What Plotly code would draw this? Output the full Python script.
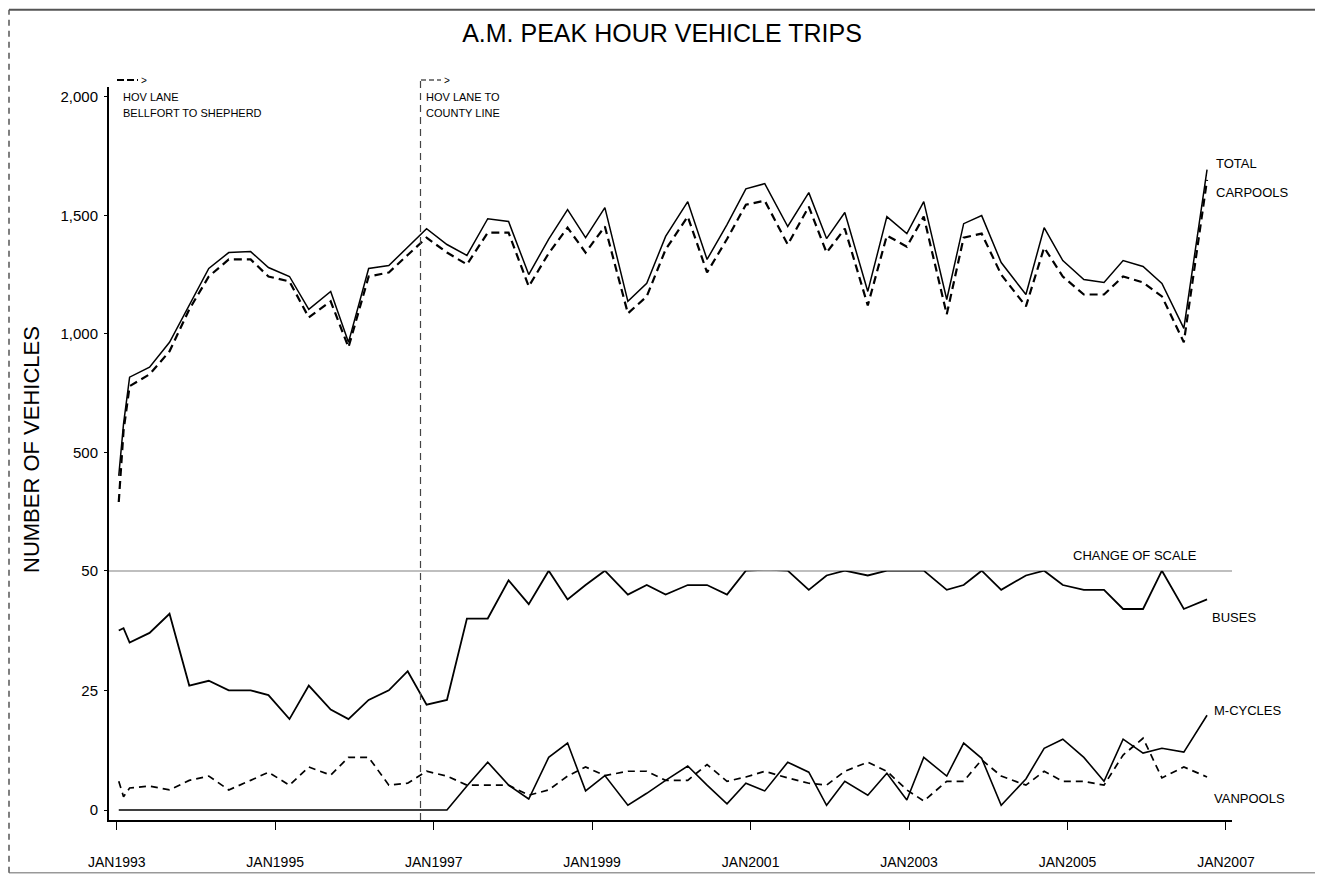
import plotly.graph_objects as go

# ---------------- data ----------------
dates = [
    "1993-01-10", "1993-02-01", "1993-03-01", "1993-06-01", "1993-09-01", "1993-12-01",
    "1994-03-01", "1994-06-01", "1994-09-10", "1994-12-01",
    "1995-03-08", "1995-06-05", "1995-09-14", "1995-12-05",
    "1996-03-07", "1996-06-08", "1996-09-03", "1996-11-29",
    "1997-03-03", "1997-06-03", "1997-09-07", "1997-12-12",
    "1998-03-15", "1998-06-15", "1998-09-10", "1998-12-02",
    "1999-03-01", "1999-06-15", "1999-09-10", "1999-12-06",
    "2000-03-17", "2000-06-14", "2000-09-14", "2000-12-10",
    "2001-03-07", "2001-06-21", "2001-09-26", "2001-12-17",
    "2002-03-11", "2002-06-25", "2002-09-21", "2002-12-22",
    "2003-03-10", "2003-06-24", "2003-09-10", "2003-12-02",
    "2004-03-01", "2004-06-23", "2004-09-15", "2004-12-10",
    "2005-03-17", "2005-06-18", "2005-09-14", "2005-12-15",
    "2006-03-12", "2006-06-21", "2006-10-06",
]

total = [
    400, 620, 817, 859, 964, 1124,
    1276, 1343, 1347, 1280,
    1242, 1103, 1179, 964,
    1276, 1288, 1365, 1444,
    1377, 1331, 1486, 1474,
    1250, 1400, 1524, 1406,
    1533, 1137, 1213, 1411,
    1558, 1314, 1461, 1612,
    1634, 1453, 1596, 1402,
    1512, 1179, 1495, 1423,
    1558, 1145, 1465, 1499,
    1301, 1166, 1448, 1309,
    1229, 1217, 1309, 1284,
    1213, 1023, 1693,
]

carpools = [
    290, 590, 779, 829, 926, 1103,
    1242, 1314, 1314, 1242,
    1221, 1069, 1137, 943,
    1242, 1259, 1333, 1406,
    1343, 1293, 1427, 1427,
    1200, 1340, 1448, 1343,
    1453, 1086, 1158, 1356,
    1495, 1259, 1400, 1545,
    1562, 1377, 1537, 1343,
    1444, 1120, 1415, 1368,
    1495, 1082, 1406, 1423,
    1250, 1116, 1364, 1242,
    1166, 1166, 1242, 1217,
    1158, 964, 1650,
]

buses = [
    37.5, 38, 35, 37, 41, 26,
    27, 25, 25, 24,
    19, 26, 21, 19,
    23, 25, 29, 22,
    23, 40, 40, 48,
    43, 50, 44, 47,
    50, 45, 47, 45,
    47, 47, 45, 50,
    50.2, 50, 46, 49,
    50, 49, 50, 50,
    50, 46, 47, 50,
    46, 49, 50, 47,
    46, 46, 42, 42,
    50, 42, 44,
]

mcycles = [
    0, 0, 0, 0, 0, 0,
    0, 0, 0, 0,
    0, 0, 0, 0,
    0, 0, 0, 0,
    0, 5, 10, 5.2,
    2.3, 11, 14, 4,
    7.2, 1, 3.5, 6.2,
    9.2, 5.2, 1.3, 5.6,
    4, 10, 7.9, 1,
    6, 3.1, 7.7, 2.1,
    11, 7.1, 14, 10.8,
    1, 6.5, 12.9, 14.8,
    11, 6, 14.8, 11.9,
    12.9, 12.1, 19.8,
]

vanpools = [
    6.0, 2.8, 4.6, 5.0, 4.2, 6.2,
    7.1, 4.2, 6.2, 7.9,
    5.2, 9.0, 7.3, 11.0,
    11.0, 5.2, 5.6, 8.1,
    7.1, 5.2, 5.2, 5.2,
    3.1, 4.2, 7.1, 9.0,
    7.2, 8.1, 8.1, 6.2,
    6.2, 9.5, 6.0, 6.9,
    8.1, 6.7, 5.6, 5.2,
    8.1, 10.0, 8.1, 4.2,
    1.9, 6.0, 6.0, 10.5,
    7.1, 5.2, 8.1, 6.0,
    6.0, 5.2, 11.5, 15.0,
    6.7, 9.0, 6.9,
]

year_ticks = ["1993-01-01", "1995-01-01", "1997-01-01", "1999-01-01",
              "2001-01-01", "2003-01-01", "2005-01-01", "2007-01-01"]
year_labels = ["JAN1993", "JAN1995", "JAN1997", "JAN1999",
               "JAN2001", "JAN2003", "JAN2005", "JAN2007"]
upper_ticks = [500, 1000, 1500, 2000]
upper_labels = ["500", "1,000", "1,500", "2,000"]
lower_ticks = [0, 25, 50]
lower_labels = ["0", "25", "50"]
hov_county_date = "1996-11-01"
scale_break = 50

# ---------------- layout geometry ----------------
# The page body has an 8px margin, so the figure is drawn 8px in from the window corner.
OFF = 8
WIN_W, WIN_H = 1323, 882
W, H = WIN_W - OFF, WIN_H - OFF
PLOT_LEFT, PLOT_RIGHT, PLOT_TOP, PLOT_BOTTOM = 109, 1232, 87, 822  # window pixels
L = PLOT_LEFT - OFF
T = PLOT_TOP - OFF
R = W - (PLOT_RIGHT - OFF)
B = H - (PLOT_BOTTOM - OFF)
PW = PLOT_RIGHT - PLOT_LEFT
PH = PLOT_BOTTOM - PLOT_TOP
SPLIT = (PLOT_BOTTOM - 572) / PH  # fraction of plot height for the lower (0-50) scale


def px(x):
    return (x - PLOT_LEFT) / PW


def py(y):
    return (PLOT_BOTTOM - y) / PH


FONT = "Liberation Sans, Arial, Helvetica, sans-serif"

fig = go.Figure()

fig.add_trace(go.Scatter(x=dates, y=total, mode="lines", yaxis="y2", cliponaxis=False,
                         line=dict(color="black", width=1.5), name="TOTAL"))
fig.add_trace(go.Scatter(x=dates, y=carpools, mode="lines", yaxis="y2", cliponaxis=False,
                         line=dict(color="black", width=2.2, dash="8px,5px"), name="CARPOOLS"))
fig.add_trace(go.Scatter(x=dates, y=buses, mode="lines", yaxis="y", cliponaxis=False,
                         line=dict(color="black", width=1.8), name="BUSES"))
fig.add_trace(go.Scatter(x=dates, y=mcycles, mode="lines", yaxis="y", cliponaxis=False,
                         line=dict(color="black", width=1.6), name="M-CYCLES"))
fig.add_trace(go.Scatter(x=dates, y=vanpools, mode="lines", yaxis="y", cliponaxis=False,
                         line=dict(color="black", width=1.7, dash="7px,5px"), name="VANPOOLS"))

axis_common = dict(showgrid=False, zeroline=False, showline=True, linecolor="black",
                   linewidth=2, ticks="outside", tickcolor="black")

fig.update_layout(
    width=W, height=H,
    margin=dict(l=L, r=R, t=T, b=B, pad=0),
    paper_bgcolor="white", plot_bgcolor="white",
    showlegend=False,
    font=dict(family=FONT, color="black"),
    title=dict(text="A.M. PEAK HOUR VEHICLE TRIPS", x=(662 - OFF) / W, y=1 - (33 - OFF) / H,
               xanchor="center", yanchor="middle",
               font=dict(family=FONT, size=25, color="black")),
    xaxis=dict(type="date", range=["1992-11-26", "2007-01-29"], anchor="y",
               tickvals=year_ticks, ticktext=year_labels, ticklen=8, tickwidth=1.3,
               tickfont=dict(size=14), ticklabelstandoff=20, **axis_common),
    yaxis=dict(domain=[0, SPLIT], range=[-2.08, 50], anchor="x",
               tickvals=lower_ticks, ticktext=lower_labels, ticklen=3, tickwidth=1,
               tickfont=dict(size=15), ticklabelstandoff=3, **axis_common),
    yaxis2=dict(domain=[SPLIT, 1], range=[0, 2042], anchor="x",
                tickvals=upper_ticks, ticktext=upper_labels, ticklen=3, tickwidth=1,
                tickfont=dict(size=15), ticklabelstandoff=3, **axis_common),
)

shapes = []
# change of scale line
shapes.append(dict(type="line", xref="paper", yref="y", x0=0, x1=1,
                   y0=scale_break, y1=scale_break, line=dict(color="black", width=1.3)))
# HOV lane to county line marker
shapes.append(dict(type="line", xref="x", yref="paper", x0=hov_county_date, x1=hov_county_date,
                   y0=0, y1=py(78), line=dict(color="#444", width=1.2, dash="7px,5px")))
# arrows
shapes.append(dict(type="line", xref="paper", yref="paper", x0=px(117), x1=px(138),
                   y0=py(80), y1=py(80), line=dict(color="black", width=2.2, dash="7px,3px")))
shapes.append(dict(type="line", xref="paper", yref="paper", x0=px(421), x1=px(441),
                   y0=py(80), y1=py(80), line=dict(color="black", width=1.1, dash="5px,3px")))
# outer frame (kept inside the figure area)
fx0, fx1, fy0, fy1 = px(9), px(1320), py(875), py(9.5)
shapes.append(dict(type="line", xref="paper", yref="paper", x0=fx0, x1=fx1, y0=fy1, y1=fy1,
                   line=dict(color="#555", width=2)))
shapes.append(dict(type="line", xref="paper", yref="paper", x0=fx1, x1=fx1, y0=fy0, y1=fy1,
                   line=dict(color="#555", width=2)))
shapes.append(dict(type="line", xref="paper", yref="paper", x0=fx0, x1=fx1, y0=fy0, y1=fy0,
                   line=dict(color="#999", width=1.5)))
shapes.append(dict(type="line", xref="paper", yref="paper", x0=fx0, x1=fx0, y0=fy0, y1=fy1,
                   line=dict(color="#555", width=1.5, dash="6px,5px")))
fig.update_layout(shapes=shapes)


def note(text, x, y, size=13, xanchor="left", angle=0):
    fig.add_annotation(text=text, xref="paper", yref="paper", x=px(x), y=py(y),
                       xanchor=xanchor, yanchor="middle", showarrow=False, textangle=angle,
                       font=dict(family=FONT, size=size, color="black"))


note(">", 139, 80, size=10)
note(">", 442, 80, size=10)
note("HOV LANE", 121, 97, size=11)
note("BELLFORT TO SHEPHERD", 121, 113, size=11)
note("HOV LANE TO", 424, 97, size=11)
note("COUNTY LINE", 424, 113, size=11)
note("TOTAL", 1214, 164, size=13)
note("CARPOOLS", 1214, 193, size=13)
note("CHANGE OF SCALE", 1071, 557, size=13)
note("BUSES", 1210, 619, size=13)
note("M-CYCLES", 1212, 712, size=13)
note("VANPOOLS", 1212, 800, size=13)
note("NUMBER OF VEHICLES", 31, 450, size=22, xanchor="center", angle=-90)

fig.write_html("out.html")
